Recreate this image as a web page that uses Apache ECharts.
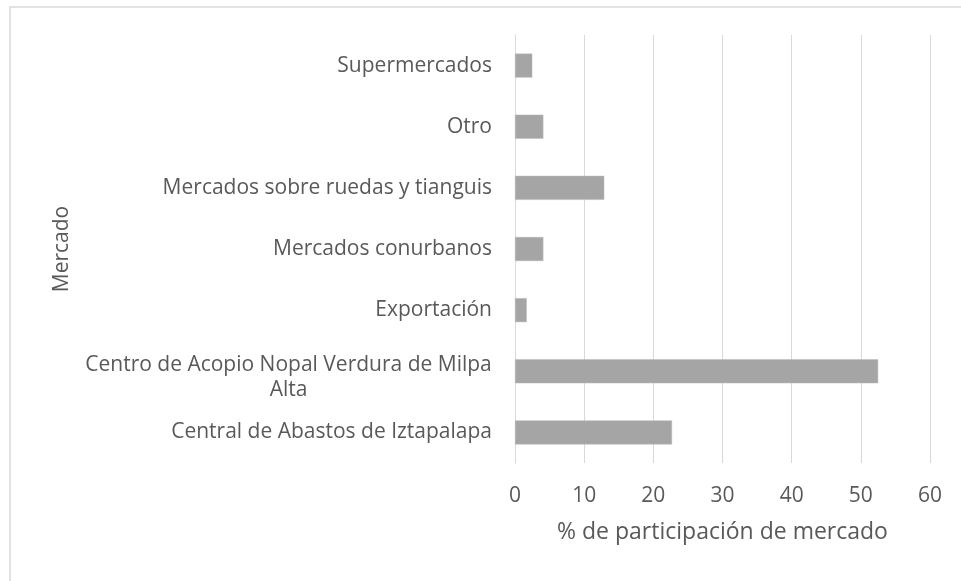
<!DOCTYPE html>
<html>
<head>
<meta charset="utf-8">
<script src="https://cdn.jsdelivr.net/npm/echarts@6/dist/echarts.min.js"></script>
<style>
  html, body { margin: 0; padding: 0; background: #ffffff; }
  #chart { width: 961px; height: 581px; }
</style>
</head>
<body>
<div id="chart"></div>
<script>
// Categories listed bottom-to-top (ECharts category axis starts at the bottom)
const categories = [
  'Central de Abastos de Iztapalapa',
  'Centro de Acopio Nopal Verdura de Milpa Alta',
  'Exportación',
  'Mercados conurbanos',
  'Mercados sobre ruedas y tianguis',
  'Otro',
  'Supermercados'
];
const values = [22.7, 52.5, 1.7, 4.1, 12.9, 4.1, 2.5];
const xTicks = [0, 10, 20, 30, 40, 50, 60];
const xAxisTitle = '% de participación de mercado';
const yAxisTitle = 'Mercado';

const FONT = '"Open Sans", "Noto Sans", sans-serif';
const TXT = '#595959';
const GRID = '#d9d9d9';
const CAT_SIZE = 21;

function measure(text, size) {
  const c = document.createElement('canvas').getContext('2d');
  c.font = size + 'px ' + FONT;
  return Math.ceil(c.measureText(text).width);
}
const wrapLine1 = 'Centro de Acopio Nopal Verdura de Milpa';
const wrapLine2 = 'Alta';
const wrapW = measure(wrapLine1, CAT_SIZE);

const chart = echarts.init(document.getElementById('chart'), null, { renderer: 'canvas' });
chart.setOption({
  backgroundColor: '#ffffff',
  animation: false,
  graphic: [{
    type: 'rect',
    shape: { x: 10, y: 7, width: 1000, height: 1000 },
    style: { fill: 'none', stroke: GRID, lineWidth: 1.5 },
    silent: true,
    z: -10
  }],
  grid: { left: 515, right: 31, top: 35, bottom: 118, containLabel: false },
  xAxis: {
    type: 'value',
    min: xTicks[0],
    max: xTicks[xTicks.length - 1],
    interval: xTicks[1] - xTicks[0],
    axisLine: { show: false },
    axisTick: { show: false },
    splitLine: { show: true, lineStyle: { color: GRID, width: 1 } },
    axisLabel: { color: TXT, fontFamily: FONT, fontSize: 21, margin: 23 },
    name: xAxisTitle,
    nameLocation: 'middle',
    nameGap: 58,
    nameTextStyle: { color: TXT, fontFamily: FONT, fontSize: 23 }
  },
  yAxis: {
    type: 'category',
    data: categories,
    axisLine: { show: true, lineStyle: { color: GRID, width: 1 } },
    axisTick: { show: false },
    splitLine: { show: false },
    axisLabel: {
      color: TXT, fontFamily: FONT, fontSize: CAT_SIZE, margin: 23,
      formatter: function (v) {
        if (v.indexOf('Milpa Alta') >= 0) {
          return '{s| }\n{a|' + wrapLine1 + '}\n{a|' + wrapLine2 + '}';
        }
        return v;
      },
      rich: {
        s: { fontSize: 4, lineHeight: 12, color: 'rgba(0,0,0,0)' },
        a: { width: wrapW, align: 'center', color: TXT, fontFamily: FONT, fontSize: CAT_SIZE, lineHeight: 25 }
      }
    },
    name: yAxisTitle,
    nameLocation: 'middle',
    nameGap: 442,
    nameRotate: 90,
    nameTextStyle: { color: TXT, fontFamily: FONT, fontSize: 21 }
  },
  series: [{
    type: 'bar',
    data: values,
    barWidth: 24,
    itemStyle: { color: '#a5a5a5', borderColor: '#b8b8b8', borderWidth: 0.5 },
    silent: true
  }]
});
</script>
</body>
</html>
